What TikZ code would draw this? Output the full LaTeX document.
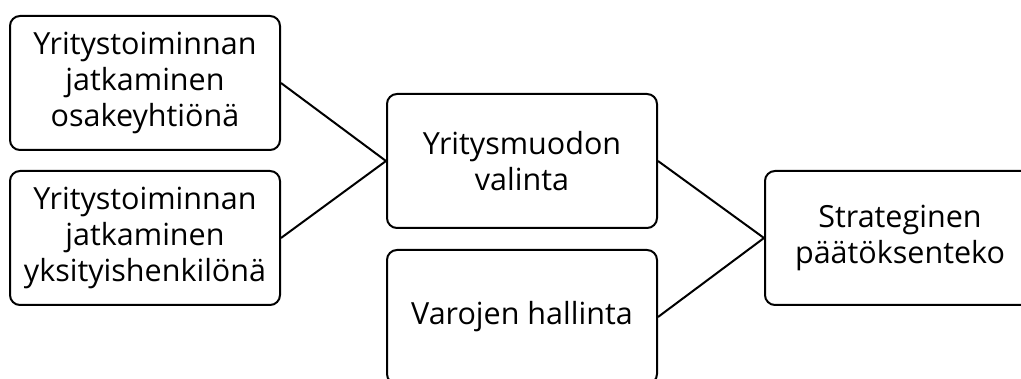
\documentclass[tikz,border=0pt]{standalone}
\usepackage{fontspec}
\setmainfont{Open Sans}
\begin{document}
\begin{tikzpicture}[x=1pt,y=-1pt,
  box/.style={draw=black, line width=2pt, rounded corners=10pt, fill=white,
    minimum width=270pt, minimum height=134pt, inner sep=0pt,
    align=center, font=\fontsize{30.5}{36}\selectfont},
  link/.style={draw=black, line width=2pt}]
\useasboundingbox (0,0) rectangle (1021,379);
\clip (0,0) rectangle (1021,379);
\fill[white] (0,0) rectangle (1021,379);
\node[box] (osake) at (145,83) {Yritystoiminnan\\jatkaminen\\osakeyhtiönä};
\node[box] (yksit) at (145,238) {Yritystoiminnan\\jatkaminen\\yksityishenkilönä};
\node[box] (muoto) at (522,161) {Yritysmuodon\\valinta};
\node[box] (varat) at (522,317) {Varojen hallinta};
\node[box] (strat) at (900,238) {Strateginen\\päätöksenteko};
\draw[link] (osake.east) -- (muoto.west);
\draw[link] (yksit.east) -- (muoto.west);
\draw[link] (muoto.east) -- (strat.west);
\draw[link] (varat.east) -- (strat.west);
\end{tikzpicture}
\end{document}
